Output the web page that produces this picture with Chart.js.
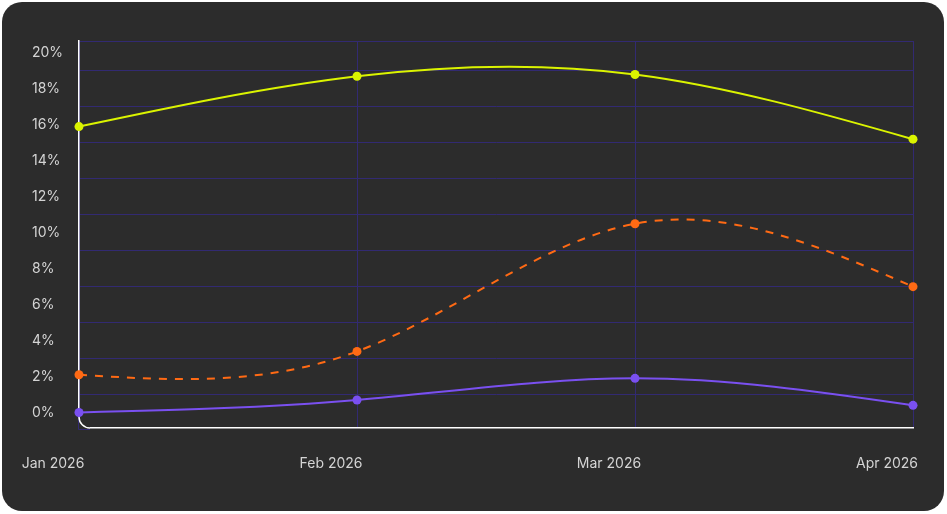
<!DOCTYPE html>
<html>
<head>
<meta charset="utf-8">
<script src="https://cdn.jsdelivr.net/npm/chart.js@4"></script>
<style>
  html, body { margin: 0; padding: 0; background: #ffffff; }
  #card {
    position: absolute;
    left: 2px; top: 2px;
    width: 942px; height: 509px;
    border-radius: 20px;
    background: #2c2c2c;
    overflow: hidden;
  }
</style>
</head>
<body>
<div id="card"><canvas id="chart"></canvas></div>
<script>
// chart data
const months = ['Jan 2026', 'Feb 2026', 'Mar 2026', 'Apr 2026'];
const limeValues = [15.9, 18.7, 18.8, 15.2];
const orangeValues = [2.1, 3.4, 10.5, 7.0];
const violetValues = [0, 0.7, 1.9, 0.4];
const yTicks = [0, 2, 4, 6, 8, 10, 12, 14, 16, 18, 20];

const cardColor = '#2c2c2c';
const gridColor = '#322a72';
const textColor = '#d4d4d4';

// natural cubic spline control points (same as d3 curveNatural)
function controlPoints(x) {
  const n = x.length - 1;
  const a = new Array(n), b = new Array(n), r = new Array(n);
  a[0] = 0; b[0] = 2; r[0] = x[0] + 2 * x[1];
  for (let i = 1; i < n - 1; ++i) { a[i] = 1; b[i] = 4; r[i] = 4 * x[i] + 2 * x[i + 1]; }
  a[n - 1] = 2; b[n - 1] = 7; r[n - 1] = 8 * x[n - 1] + x[n];
  for (let i = 1; i < n; ++i) {
    const m = a[i] / b[i - 1];
    b[i] -= m;
    r[i] -= m * r[i - 1];
  }
  a[n - 1] = r[n - 1] / b[n - 1];
  for (let i = n - 2; i >= 0; --i) a[i] = (r[i] - a[i + 1]) / b[i];
  b[n - 1] = (x[n] + a[n - 1]) / 2;
  for (let i = 0; i < n - 1; ++i) b[i] = 2 * x[i + 1] - a[i + 1];
  return [a, b];
}

const naturalCurve = {
  id: 'naturalCurve',
  beforeDatasetDraw(chart, args) {
    const pts = args.meta.data;
    if (pts.length < 3) return;
    const [ax, bx] = controlPoints(pts.map(p => p.x));
    const [ay, by] = controlPoints(pts.map(p => p.y));
    for (let i = 0; i < pts.length - 1; i++) {
      pts[i].cp2x = ax[i]; pts[i].cp2y = ay[i];
      pts[i + 1].cp1x = bx[i]; pts[i + 1].cp1y = by[i];
    }
    pts[0].cp1x = pts[0].x; pts[0].cp1y = pts[0].y;
    const last = pts[pts.length - 1];
    last.cp2x = last.x; last.cp2y = last.y;
    args.meta.dataset._pointsUpdated = true;
  }
};

// rounded corner where the white axis lines meet
const axisCorner = {
  id: 'axisCorner',
  beforeDatasetsDraw(chart) {
    const {ctx, chartArea} = chart;
    const left = chartArea.left, bottom = chartArea.bottom, r = 11;
    ctx.save();
    ctx.fillStyle = cardColor;
    ctx.fillRect(left - 2, bottom - r, r + 2, r + 2);
    ctx.strokeStyle = gridColor;
    ctx.lineWidth = 1;
    ctx.beginPath();
    ctx.moveTo(left - 0.5, bottom - r);
    ctx.lineTo(left - 0.5, bottom + 1.5);
    ctx.lineTo(left + r, bottom + 1.5);
    ctx.stroke();
    ctx.strokeStyle = '#ffffff';
    ctx.lineWidth = 1.5;
    ctx.beginPath();
    ctx.moveTo(left, bottom - r);
    ctx.arcTo(left, bottom, left + r, bottom, r);
    ctx.stroke();
    ctx.restore();
  }
};

function lineSet(label, data, color, dash) {
  return {
    label: label,
    data: data,
    xAxisID: 'x',
    yAxisID: 'y',
    borderColor: color,
    backgroundColor: color,
    borderWidth: 2,
    borderDash: dash || [],
    pointRadius: 4.5,
    pointBorderWidth: 0,
    pointBackgroundColor: color,
    tension: 0.4,
    fill: false,
    clip: false
  };
}

Chart.defaults.font.family = 'Inter, "Noto Sans", sans-serif';
Chart.defaults.font.size = 14;
Chart.defaults.color = textColor;

new Chart(document.getElementById('chart'), {
  type: 'line',
  data: {
    labels: months,
    datasets: [
      lineSet('Lime', limeValues, '#dbf400'),
      lineSet('Orange', orangeValues, '#ff6a14', [8, 8]),
      lineSet('Violet', violetValues, '#7a50f0')
    ]
  },
  options: {
    responsive: true,
    maintainAspectRatio: false,
    animation: false,
    layout: {
      padding: { left: 30, right: 31, top: 39, bottom: 0 }
    },
    plugins: {
      legend: { display: false },
      tooltip: { enabled: false }
    },
    scales: {
      x: {
        type: 'category',
        position: 'bottom',
        grid: { color: gridColor, lineWidth: 1, drawTicks: false },
        border: { color: '#ffffff', width: 1.5 },
        ticks: { color: textColor, padding: 27, labelOffset: -26, maxRotation: 0, autoSkip: false },
        afterFit(scale) {
          scale.height = 83;
          scale.paddingLeft = 0;
          scale.paddingRight = 0;
        }
      },
      xTop: {
        type: 'category',
        position: 'top',
        grid: { display: false, drawTicks: false },
        ticks: { display: false },
        border: { display: true, color: gridColor, width: 1 },
        afterFit(scale) {
          scale.height = 0;
          scale.paddingLeft = 0;
          scale.paddingRight = 0;
        }
      },
      y: {
        type: 'linear',
        position: 'left',
        min: -0.86,
        max: 20.66,
        grid: { color: gridColor, lineWidth: 1, offset: true, drawTicks: false },
        border: { color: '#ffffff', width: 1.5 },
        afterBuildTicks(scale) {
          scale.ticks = yTicks.map(v => ({ value: v }));
        },
        ticks: {
          stepSize: 2,
          includeBounds: false,
          crossAlign: 'far',
          padding: 0,
          color: textColor,
          callback: v => v + '%'
        },
        afterFit(scale) {
          scale.width = 47;
          scale.paddingTop = 0;
          scale.paddingBottom = 0;
        }
      }
    }
  },
  plugins: [naturalCurve, axisCorner]
});
</script>
</body>
</html>
